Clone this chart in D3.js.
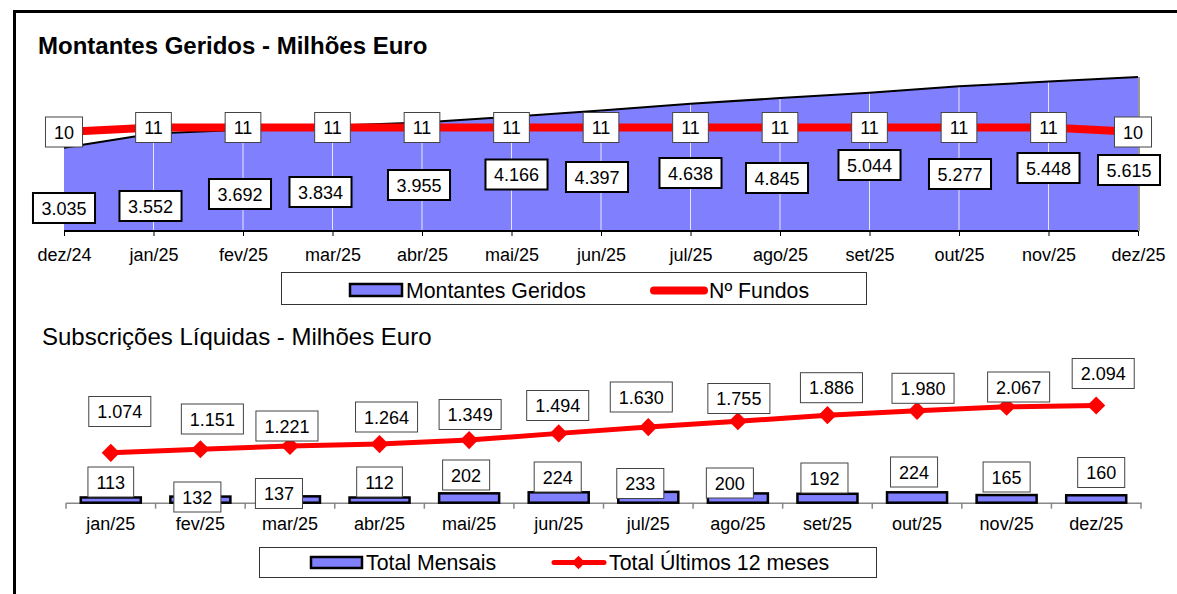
<!DOCTYPE html>
<html>
<head>
<meta charset="utf-8">
<script src="https://cdn.jsdelivr.net/npm/d3@7"></script>
<style>
  body { margin: 0; background: #fff; }
  svg { display: block; font-family: "Liberation Sans", Arial, sans-serif; }
</style>
</head>
<body>
<svg width="1177" height="594"></svg>
<script>
// top chart: amounts under management + number of funds
const months = ["dez/24", "jan/25", "fev/25", "mar/25", "abr/25", "mai/25", "jun/25",
    "jul/25", "ago/25", "set/25", "out/25", "nov/25", "dez/25"];
const amounts = [3035, 3552, 3692, 3834, 3955, 4166, 4397, 4638, 4845, 5044, 5277, 5448, 5615];
const funds = [10, 11, 11, 11, 11, 11, 11, 11, 11, 11, 11, 11, 10];

// bottom chart: net subscriptions
const months2 = ["jan/25", "fev/25", "mar/25", "abr/25", "mai/25", "jun/25",
    "jul/25", "ago/25", "set/25", "out/25", "nov/25", "dez/25"];
const monthly = [113, 132, 137, 112, 202, 224, 233, 200, 192, 224, 165, 160];
const rolling = [1074, 1151, 1221, 1264, 1349, 1494, 1630, 1755, 1886, 1980, 2067, 2094];

// label placement (Excel moved a few of them around)
const amountLabelDx = [0, -3, -3, -12, -3, 5, -4, 0, -3, 0, 1, 0, -9];
const amountLabelY = [208, 206, 194, 192, 185, 174.5, 177, 173, 178, 165, 174, 168, 170];
const fundLabelDx = [0, 0, 0, 0, 0, 0, 0, 0, 0, 0, 0, 0, -5];
const rollingLabelDx = [9, 12, -3, 7, 1, -1, -7, 1, 4, 6, 12, 7];
const rollingLabelY = [411.5, 419, 426, 417, 414.5, 405.5, 397, 398.5, 387.7, 388.3, 387, 373.5];
const monthlyLabelDx = [0, -3, -11, 0, -3, -1, -8, -8, -3, -3, 0, 5];
const monthlyLabelY = [482, 497, 493.5, 482, 475, 477, 483.5, 483, 478, 472, 477, 472.5];

const svg = d3.select("svg");
const pt = d3.formatLocale({decimal: ",", thousands: ".", grouping: [3], currency: ["€", ""]});
const fmt = pt.format(",d");

const BLUE = "#8080FF", RED = "#FF0000";

// outer frame
svg.append("rect")
    .attr("x", 14.5).attr("y", 11.5)
    .attr("width", 1200).attr("height", 620)
    .attr("fill", "none").attr("stroke", "#000").attr("stroke-width", 3);

function labelBox(g, txt, cx, cy, heavy) {
    const lg = g.append("g");
    const rect = lg.append("rect");
    const t = lg.append("text")
        .attr("x", cx).attr("y", cy + 6.5)
        .attr("text-anchor", "middle")
        .attr("font-size", 18)
        .attr("fill", "#000")
        .text(txt);
    const w = t.node().getComputedTextLength() + 17;
    rect.attr("x", cx - w / 2).attr("y", cy - 15)
        .attr("width", w).attr("height", 30)
        .attr("fill", "#fff")
        .attr("stroke", heavy ? "#000" : "#444")
        .attr("stroke-width", heavy ? 2 : 1);
}

function plotTop() {
    const x = d3.scalePoint().domain(months).range([64, 1138]);
    const y = d3.scaleLinear().domain([0, 7000]).range([231, 39]);
    const y2 = d3.scaleLinear().domain([10, 11]).range([132, 127.5]);
    const g = svg.append("g");

    g.append("text")
        .attr("x", 38).attr("y", 54)
        .attr("font-size", 24).attr("font-weight", "bold")
        .text("Montantes Geridos - Milhões Euro");

    const area = d3.area()
        .x((d, i) => x(months[i]))
        .y0(y(0))
        .y1(d => y(d));
    g.append("path").datum(amounts)
        .attr("d", area)
        .attr("fill", BLUE);

    // right edge of the area
    g.append("line")
        .attr("x1", x(months[12]) + 1).attr("x2", x(months[12]) + 1)
        .attr("y1", y(amounts[12])).attr("y2", y(0))
        .attr("stroke", "#999").attr("stroke-width", 2);

    // vertical gridlines (only visible over the area)
    g.selectAll(".grid")
        .data(amounts.slice(1, -1))
        .enter().append("line")
        .attr("x1", (d, i) => x(months[i + 1])).attr("x2", (d, i) => x(months[i + 1]))
        .attr("y1", d => y(d)).attr("y2", y(0))
        .attr("stroke", "#e6e6ff").attr("stroke-width", 1);

    g.append("path").datum(amounts)
        .attr("d", d3.line().x((d, i) => x(months[i])).y(d => y(d)))
        .attr("fill", "none").attr("stroke", "#000").attr("stroke-width", 2);

    // axis
    const ax = g.append("g")
        .attr("transform", "translate(0," + y(0) + ")")
        .call(d3.axisBottom(x).tickSize(5).tickPadding(12));
    ax.select(".domain").remove();
    ax.selectAll(".tick line").attr("stroke", "#000");
    ax.selectAll(".tick text")
        .attr("font-size", 18).attr("font-family", "Liberation Sans, Arial, sans-serif")
        .attr("fill", "#000");
    g.append("line")
        .attr("x1", 64).attr("x2", 1138)
        .attr("y1", y(0)).attr("y2", y(0))
        .attr("stroke", "#000").attr("stroke-width", 2);

    // funds line
    g.append("path").datum(funds)
        .attr("d", d3.line().x((d, i) => x(months[i])).y(d => y2(d)))
        .attr("fill", "none").attr("stroke", RED).attr("stroke-width", 8);

    funds.forEach((d, i) => labelBox(g, d, x(months[i]) + fundLabelDx[i], y2(d), false));
    amounts.forEach((d, i) => labelBox(g, fmt(d), x(months[i]) + amountLabelDx[i], amountLabelY[i], true));

    // legend
    const lg = g.append("g");
    lg.append("rect")
        .attr("x", 281.5).attr("y", 272.5).attr("width", 585).attr("height", 32)
        .attr("fill", "#fff").attr("stroke", "#333").attr("stroke-width", 1);
    lg.append("rect")
        .attr("x", 350).attr("y", 284).attr("width", 52).attr("height", 12)
        .attr("fill", BLUE).attr("stroke", "#000").attr("stroke-width", 2.5);
    lg.append("text").attr("x", 406).attr("y", 297.5).attr("font-size", 21.3)
        .text("Montantes Geridos");
    lg.append("line")
        .attr("x1", 654).attr("x2", 704).attr("y1", 290.5).attr("y2", 290.5)
        .attr("stroke", RED).attr("stroke-width", 8).attr("stroke-linecap", "round");
    lg.append("text").attr("x", 709).attr("y", 297.5).attr("font-size", 21.3)
        .text("Nº Fundos");
}

function plotBottom() {
    const x = d3.scaleBand().domain(months2).range([66, 1141])
        .paddingInner(0.33).paddingOuter(0.165);
    const y = d3.scaleLinear().domain([0, 2500]).range([502.7, 386.7]);
    const cx = d => x(d) + x.bandwidth() / 2;
    const g = svg.append("g");

    g.append("text")
        .attr("x", 42).attr("y", 345)
        .attr("font-size", 24)
        .text("Subscrições Líquidas - Milhões Euro");

    // axis with ticks between categories
    const ax = g.append("g")
        .attr("transform", "translate(0," + y(0) + ")")
        .call(d3.axisBottom(x).tickSize(0).tickPadding(15));
    ax.select(".domain").attr("stroke", "#888").attr("stroke-width", 1.5);
    ax.selectAll(".tick text")
        .attr("font-size", 18).attr("font-family", "Liberation Sans, Arial, sans-serif")
        .attr("fill", "#000");
    const step = x.step();
    g.selectAll(".sep")
        .data(d3.range(months2.length + 1))
        .enter().append("line")
        .attr("x1", i => 66 + i * step).attr("x2", i => 66 + i * step)
        .attr("y1", y(0)).attr("y2", y(0) + 6)
        .attr("stroke", "#888").attr("stroke-width", 1.5);

    g.selectAll(".bar")
        .data(monthly)
        .enter().append("rect")
        .attr("x", (d, i) => x(months2[i]))
        .attr("y", d => y(d))
        .attr("width", x.bandwidth())
        .attr("height", d => y(0) - y(d))
        .attr("fill", BLUE).attr("stroke", "#000").attr("stroke-width", 2.5);

    g.append("path").datum(rolling)
        .attr("d", d3.line().x((d, i) => cx(months2[i])).y(d => y(d)))
        .attr("fill", "none").attr("stroke", RED).attr("stroke-width", 5);

    g.selectAll(".mk")
        .data(rolling)
        .enter().append("path")
        .attr("transform", (d, i) => "translate(" + cx(months2[i]) + "," + y(d) + ")")
        .attr("d", d3.symbol(d3.symbolDiamond2, 210))
        .attr("fill", RED);

    rolling.forEach((d, i) => labelBox(g, fmt(d), cx(months2[i]) + rollingLabelDx[i], rollingLabelY[i], false));
    monthly.forEach((d, i) => labelBox(g, fmt(d), cx(months2[i]) + monthlyLabelDx[i], monthlyLabelY[i], false));

    // legend
    const lg = g.append("g");
    lg.append("rect")
        .attr("x", 259.5).attr("y", 547.5).attr("width", 617).attr("height", 30)
        .attr("fill", "#fff").attr("stroke", "#333").attr("stroke-width", 1);
    lg.append("rect")
        .attr("x", 311).attr("y", 557).attr("width", 51).attr("height", 11)
        .attr("fill", BLUE).attr("stroke", "#000").attr("stroke-width", 2.5);
    lg.append("text").attr("x", 366).attr("y", 569.5).attr("font-size", 21.3)
        .text("Total Mensais");
    lg.append("line")
        .attr("x1", 554).attr("x2", 604).attr("y1", 562.5).attr("y2", 562.5)
        .attr("stroke", RED).attr("stroke-width", 5).attr("stroke-linecap", "round");
    lg.append("path")
        .attr("transform", "translate(578.5,562.5)")
        .attr("d", d3.symbol(d3.symbolDiamond2, 120))
        .attr("fill", RED);
    lg.append("text").attr("x", 609).attr("y", 569.5).attr("font-size", 21.3)
        .text("Total Últimos 12 meses");
}

plotTop();
plotBottom();
</script>
</body>
</html>
